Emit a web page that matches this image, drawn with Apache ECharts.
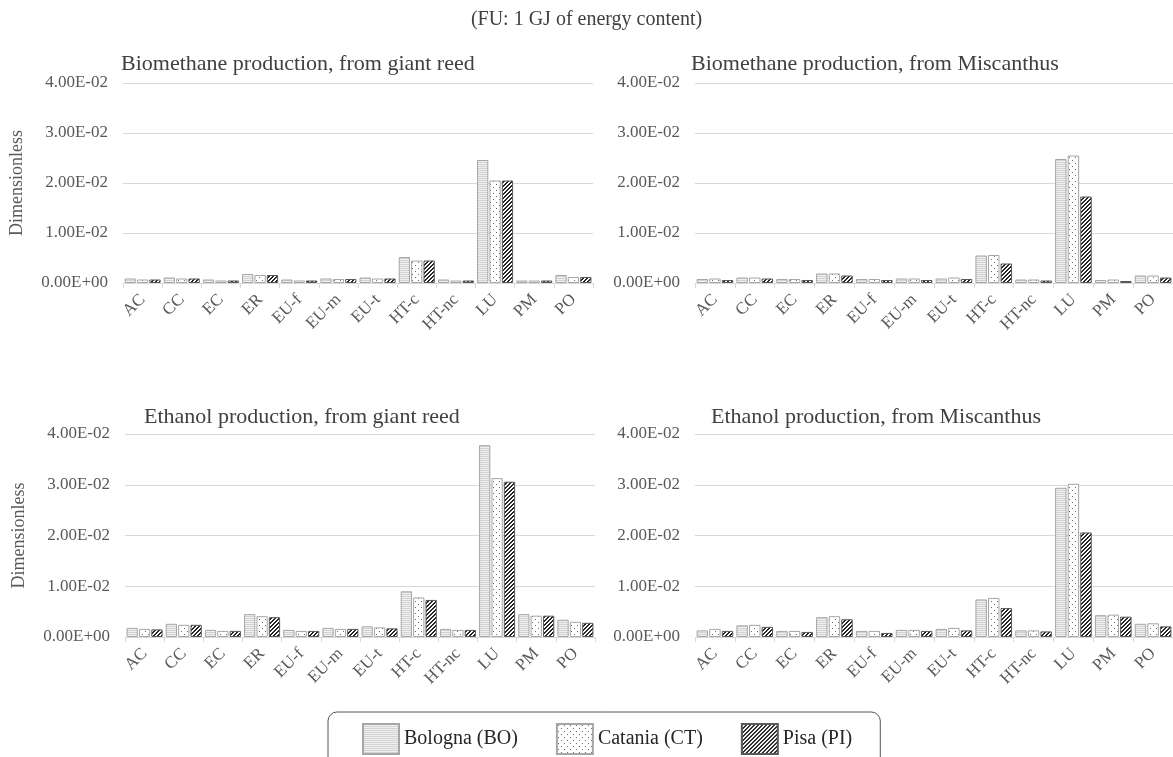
<!DOCTYPE html>
<html>
<head>
<meta charset="utf-8">
<title>Normalised impacts</title>
<script src="https://cdn.jsdelivr.net/npm/echarts@6/dist/echarts.min.js"></script>
<style>
  html, body { margin: 0; padding: 0; background: #fff; }
  #chart { width: 1173px; height: 757px; }
</style>
</head>
<body>
<div id="chart"></div>
<script>
// impact categories on the x axis
const categories = ["AC", "CC", "EC", "ER", "EU-f", "EU-m", "EU-t", "HT-c", "HT-nc", "LU", "PM", "PO"];
const sites = ["Bologna (BO)", "Catania (CT)", "Pisa (PI)"];
const yTicks = [0, 0.01, 0.02, 0.03, 0.04];

// Biomethane production, from giant reed
const bioReedBO = [0.0009, 0.0011, 0.0007, 0.0018, 0.0007, 0.0009, 0.0011, 0.0052, 0.0007, 0.0246, 0.0005, 0.0016];
const bioReedCT = [0.0007, 0.0009, 0.0005, 0.0016, 0.0005, 0.0008, 0.0009, 0.0045, 0.0005, 0.0205, 0.0005, 0.0012];
const bioReedPI = [0.0007, 0.0009, 0.0005, 0.0016, 0.0005, 0.0008, 0.0009, 0.0045, 0.0005, 0.0205, 0.0005, 0.0012];

// Biomethane production, from Miscanthus
const bioMiscBO = [0.0008, 0.0011, 0.0008, 0.0019, 0.0008, 0.0009, 0.0009, 0.0055, 0.0007, 0.0248, 0.0006, 0.0015];
const bioMiscCT = [0.0009, 0.0011, 0.0008, 0.0019, 0.0008, 0.0009, 0.0011, 0.0056, 0.0007, 0.0255, 0.0007, 0.0015];
const bioMiscPI = [0.0006, 0.0009, 0.0006, 0.0015, 0.0006, 0.0006, 0.0008, 0.0039, 0.0005, 0.0173, 0.0004, 0.0011];

// Ethanol production, from giant reed
const ethReedBO = [0.0018, 0.0026, 0.0014, 0.0045, 0.0014, 0.0018, 0.0021, 0.0090, 0.0016, 0.0378, 0.0045, 0.0034];
const ethReedCT = [0.0016, 0.0024, 0.0012, 0.0041, 0.0012, 0.0016, 0.0019, 0.0078, 0.0014, 0.0313, 0.0042, 0.0030];
const ethReedPI = [0.0015, 0.0024, 0.0012, 0.0039, 0.0012, 0.0016, 0.0017, 0.0073, 0.0014, 0.0306, 0.0042, 0.0028];

// Ethanol production, from Miscanthus
const ethMiscBO = [0.0013, 0.0023, 0.0012, 0.0039, 0.0012, 0.0014, 0.0016, 0.0074, 0.0013, 0.0294, 0.0043, 0.0026];
const ethMiscCT = [0.0016, 0.0024, 0.0012, 0.0041, 0.0012, 0.0014, 0.0018, 0.0077, 0.0013, 0.0302, 0.0044, 0.0027];
const ethMiscPI = [0.0012, 0.0020, 0.0010, 0.0035, 0.0008, 0.0012, 0.0013, 0.0057, 0.0011, 0.0206, 0.0040, 0.0021];

const panelTitles = [
  "Biomethane production, from giant reed",
  "Biomethane production, from Miscanthus",
  "Ethanol production, from giant reed",
  "Ethanol production, from Miscanthus"
];
const panelData = [
  [bioReedBO, bioReedCT, bioReedPI],
  [bioMiscBO, bioMiscCT, bioMiscPI],
  [ethReedBO, ethReedCT, ethReedPI],
  [ethMiscBO, ethMiscCT, ethMiscPI]
];

const FONT = "Liberation Serif";
const LABEL = "#595959";
const LINE = "#d9d9d9";

// small canvas tiles used as fill patterns (excel-like hatching)
function tile(size, draw) {
  const c = document.createElement("canvas");
  c.width = size; c.height = size;
  const ctx = c.getContext("2d");
  draw(ctx, size);
  return { image: c, repeat: "repeat" };
}
const fillBO = tile(4, (ctx, n) => {
  ctx.fillStyle = "#f0f0f0"; ctx.fillRect(0, 0, n, n);
  ctx.fillStyle = "#d2d2d2"; ctx.fillRect(0, 0, n, 1); ctx.fillRect(0, 2, n, 1);
});
const fillCT = tile(6, (ctx, n) => {
  ctx.fillStyle = "#ffffff"; ctx.fillRect(0, 0, n, n);
  ctx.fillStyle = "#6a6a6a"; ctx.fillRect(1, 1, 1, 1); ctx.fillRect(4, 4, 1, 1);
});
const fillPI = tile(4, (ctx, n) => {
  ctx.fillStyle = "#ffffff"; ctx.fillRect(0, 0, n, n);
  ctx.fillStyle = "#262626";
  for (let x = 0; x < n; x++) {
    for (let y = 0; y < n; y++) {
      if ((x + y) % 4 < 2) ctx.fillRect(x, y, 1, 1);
    }
  }
});
const fills = [fillBO, fillCT, fillPI];
const borders = ["#a6a6a6", "#a6a6a6", "#595959"];

// plot areas, in px
const grids = [
  { left: 123, top: 83, width: 470, height: 200 },
  { left: 695, top: 83, width: 484, height: 200 },
  { left: 125, top: 434, width: 470, height: 203 },
  { left: 695, top: 434, width: 484, height: 203 }
];
const titlePos = [
  { left: 121, top: 53 },
  { left: 691, top: 53 },
  { left: 144, top: 406 },
  { left: 711, top: 406 }
];

function sci(v) {
  if (v === 0) return "0.00E+00";
  const e = Math.floor(Math.log10(Math.abs(v)) + 1e-9);
  const m = v / Math.pow(10, e);
  return m.toFixed(2) + "E" + (e < 0 ? "-" : "+") + String(Math.abs(e)).padStart(2, "0");
}

const xAxes = [], yAxes = [], series = [];
const titles = [{
  text: "(FU: 1 GJ of energy content)",
  left: "center", top: 10, padding: 0,
  textStyle: { fontFamily: FONT, fontSize: 20, fontWeight: "normal", color: "#404040" }
}];

grids.forEach((g, i) => {
  titles.push({
    text: panelTitles[i],
    left: titlePos[i].left, top: titlePos[i].top, padding: 0,
    textStyle: { fontFamily: FONT, fontSize: 22, fontWeight: "normal", color: "#404040" }
  });
  xAxes.push({
    type: "category", gridIndex: i, data: categories,
    axisLine: { lineStyle: { color: LINE } },
    axisTick: { show: true, length: 5, lineStyle: { color: LINE } },
    axisLabel: { rotate: 45, interval: 0, margin: 14, fontFamily: FONT, fontSize: 17, color: LABEL }
  });
  yAxes.push({
    type: "value", gridIndex: i,
    min: yTicks[0], max: yTicks[yTicks.length - 1], interval: yTicks[1] - yTicks[0],
    name: i % 2 === 0 ? "Dimensionless" : "",
    nameLocation: "middle", nameRotate: 90, nameGap: 97,
    nameTextStyle: { fontFamily: FONT, fontSize: 18, color: LABEL },
    axisLine: { show: false }, axisTick: { show: false },
    splitLine: { lineStyle: { color: LINE } },
    axisLabel: { margin: 15, fontFamily: FONT, fontSize: 17, color: LABEL, formatter: sci }
  });
  sites.forEach((s, k) => {
    series.push({
      name: s, type: "bar", xAxisIndex: i, yAxisIndex: i,
      data: panelData[i][k],
      barGap: "10%", barCategoryGap: "8%",
      itemStyle: { color: fills[k], borderColor: borders[k], borderWidth: 1 },
      emphasis: { disabled: true }
    });
  });
});

const chart = echarts.init(document.getElementById("chart"), null, { renderer: "canvas" });
chart.setOption({
  animation: false,
  backgroundColor: "#ffffff",
  title: titles,
  grid: grids,
  xAxis: xAxes,
  yAxis: yAxes,
  series: series,
  legend: {
    data: sites,
    left: 328, top: 712,
    padding: [11, 28, 12, 34],
    itemWidth: 36, itemHeight: 30, itemGap: 38,
    icon: "rect",
    borderColor: "#555555", borderWidth: 1, borderRadius: 9,
    textStyle: { fontFamily: FONT, fontSize: 20, color: "#262626" }
  }
});
</script>
</body>
</html>
